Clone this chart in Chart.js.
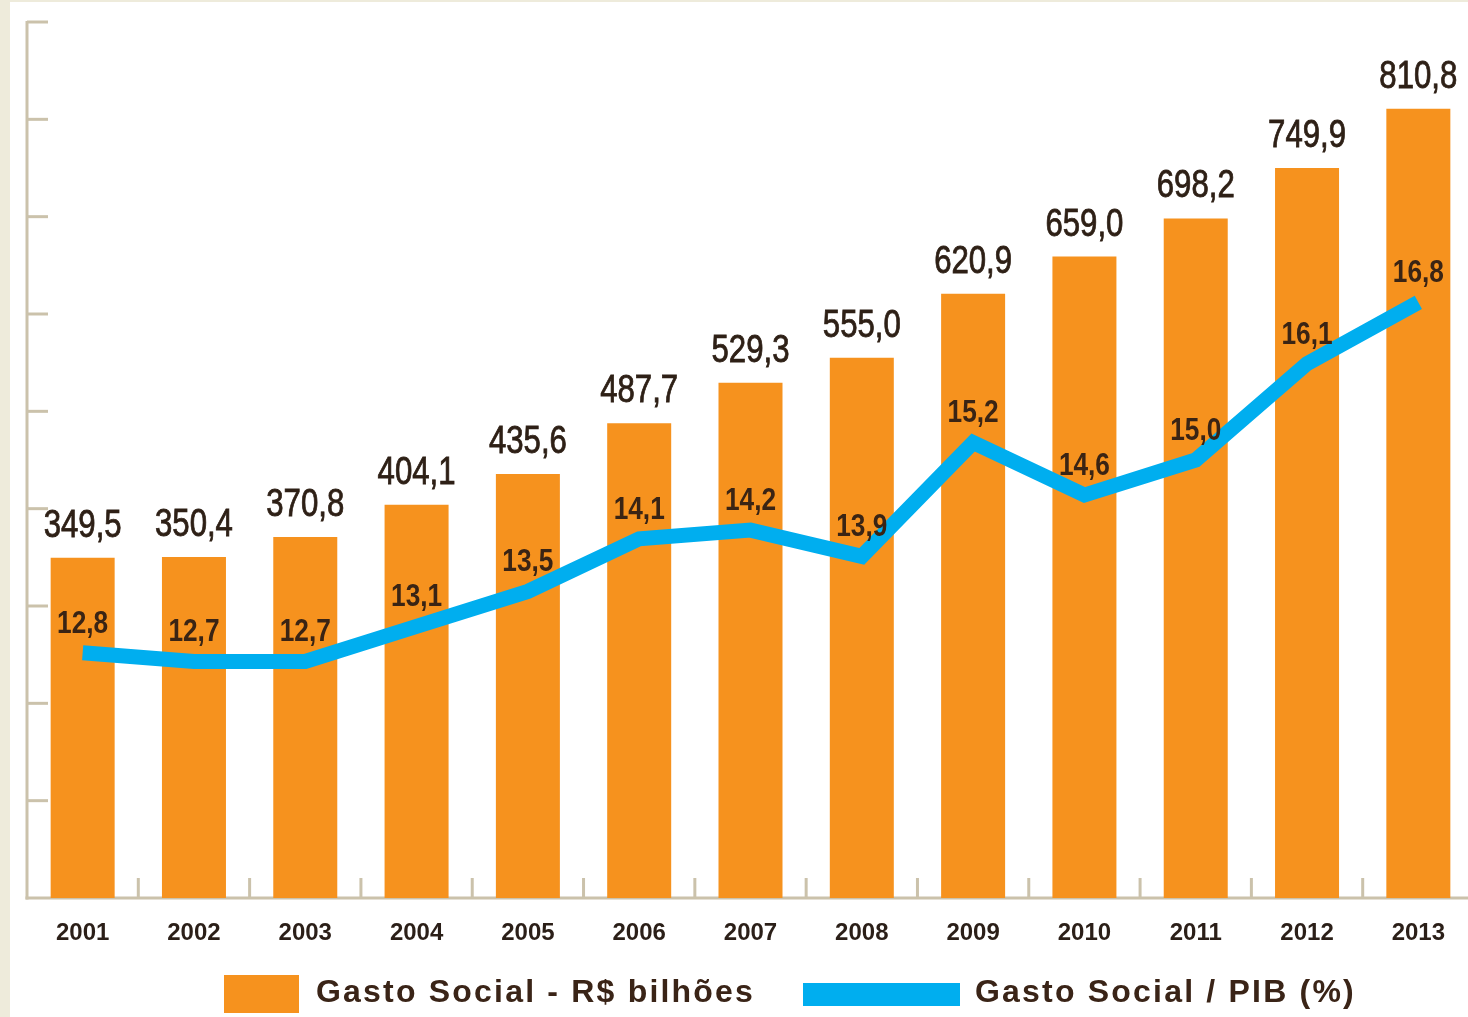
<!DOCTYPE html>
<html>
<head>
<meta charset="utf-8">
<script src="https://cdn.jsdelivr.net/npm/chart.js@4.4.1/dist/chart.umd.min.js"></script>
<style>
  html, body { margin: 0; padding: 0; width: 1468px; height: 1017px; overflow: hidden; background: #ffffff; }
  #strip { position: absolute; left: 0; top: 0; width: 10px; height: 1017px; background: #eeebdb; }
  #topstrip { position: absolute; left: 0; top: 0; width: 1468px; height: 2px; background: #eeebdb; }
  #wrap { position: absolute; left: 0; top: 0; width: 1474px; height: 1017px; }
  .leg { position: absolute; font-family: "Liberation Sans", Arial, sans-serif; font-weight: bold; font-size: 32px; letter-spacing: 2.2px; color: #3a2417; white-space: nowrap; line-height: 1; }
  .box { position: absolute; }
</style>
</head>
<body>
<div id="strip"></div>
<div id="topstrip"></div>
<div id="wrap"><canvas id="c" width="1474" height="1017"></canvas></div>
<div class="box" style="left:224px;top:975px;width:75px;height:38px;background:#f6921e;"></div>
<div class="leg" id="leg1" style="left:316px;top:975px;">Gasto Social - R$ bilhões</div>
<div class="box" style="left:803px;top:983px;width:157px;height:23px;background:#00aeef;"></div>
<div class="leg" id="leg2" style="left:975px;top:975px;">Gasto Social / PIB (%)</div>
<script>
const years = ['2001','2002','2003','2004','2005','2006','2007','2008','2009','2010','2011','2012','2013'];
const gastoSocial = [349.5, 350.4, 370.8, 404.1, 435.6, 487.7, 529.3, 555.0, 620.9, 659.0, 698.2, 749.9, 810.8];
const gastoPib = [12.8, 12.7, 12.7, 13.1, 13.5, 14.1, 14.2, 13.9, 15.2, 14.6, 15.0, 16.1, 16.8];
const yTicks = [0, 100, 200, 300, 400, 500, 600, 700, 800, 900];

const AXIS_COLOR = '#cbc2ab';
const TEXT_COLOR = '#2e2016';
const fmt = v => v.toFixed(1).replace('.', ',');
const sans = '"Liberation Sans", Arial, sans-serif';
const NARROW = 0.82;

function narrowText(ctx, text, x, y, stroke) {
  ctx.save();
  ctx.translate(x, y);
  ctx.scale(NARROW, 1);
  ctx.fillText(text, 0, 0);
  if (stroke) {
    ctx.lineWidth = stroke;
    ctx.strokeText(text, 0, 0);
  }
  ctx.restore();
}

const axesPlugin = {
  id: 'customAxes',
  beforeDatasetsDraw(chart) {
    const ctx = chart.ctx;
    const a = chart.chartArea;
    const y = chart.scales.y;
    const x = chart.scales.x;
    ctx.save();
    ctx.strokeStyle = AXIS_COLOR;
    ctx.lineWidth = 3;
    ctx.lineCap = 'butt';
    ctx.beginPath();
    ctx.moveTo(a.left, y.getPixelForValue(900) - 1);
    ctx.lineTo(a.left, a.bottom + 1.5);
    ctx.stroke();
    ctx.beginPath();
    ctx.moveTo(a.left - 1.5, a.bottom);
    ctx.lineTo(chart.width, a.bottom);
    ctx.stroke();
    yTicks.forEach(v => {
      if (v === 0) return;
      const py = y.getPixelForValue(v);
      ctx.beginPath();
      ctx.moveTo(a.left, py);
      ctx.lineTo(a.left + 21, py);
      ctx.stroke();
    });
    for (let i = 0; i < years.length - 1; i++) {
      const px = (x.getPixelForValue(i) + x.getPixelForValue(i + 1)) / 2;
      ctx.beginPath();
      ctx.moveTo(px, a.bottom);
      ctx.lineTo(px, a.bottom - 20);
      ctx.stroke();
    }
    ctx.restore();
  }
};

const labelsPlugin = {
  id: 'valueLabels',
  afterDatasetsDraw(chart) {
    const ctx = chart.ctx;
    ctx.save();
    ctx.textAlign = 'center';
    ctx.textBaseline = 'alphabetic';
    const bars = chart.getDatasetMeta(0).data;
    ctx.fillStyle = TEXT_COLOR;
    ctx.strokeStyle = TEXT_COLOR;
    ctx.font = '38px ' + sans;
    bars.forEach((b, i) => {
      narrowText(ctx, fmt(gastoSocial[i]), b.x, b.y - 21, 0.8);
    });
    const pts = chart.getDatasetMeta(1).data;
    ctx.fillStyle = '#3a2414';
    ctx.font = 'bold 32px ' + sans;
    pts.forEach((p, i) => {
      narrowText(ctx, fmt(gastoPib[i]), bars[i].x, p.y - 20, 0);
    });
    ctx.restore();
  }
};

new Chart(document.getElementById('c'), {
  data: {
    labels: years,
    datasets: [
      {
        type: 'bar',
        label: 'Gasto Social - R$ bilhões',
        data: gastoSocial,
        backgroundColor: '#f6921e',
        borderWidth: 0,
        yAxisID: 'y',
        barPercentage: 0.575,
        categoryPercentage: 1.0,
        order: 2
      },
      {
        type: 'line',
        label: 'Gasto Social / PIB (%)',
        data: gastoPib,
        borderColor: '#00aeef',
        backgroundColor: '#00aeef',
        borderWidth: 15,
        borderCapStyle: 'butt',
        borderJoinStyle: 'miter',
        tension: 0,
        pointRadius: 0,
        fill: false,
        yAxisID: 'y1',
        order: 1
      }
    ]
  },
  options: {
    responsive: false,
    animation: false,
    devicePixelRatio: 1,
    layout: { padding: { top: 22, left: 27, right: 0, bottom: 0 } },
    plugins: {
      legend: { display: false },
      tooltip: { enabled: false }
    },
    scales: {
      x: {
        type: 'category',
        offset: true,
        grid: { display: false, drawTicks: false },
        border: { display: false },
        ticks: {
          color: '#2b1f18',
          font: { family: sans, weight: 'bold', size: 24 },
          padding: 21,
          maxRotation: 0,
          autoSkip: false
        },
        afterFit(scale) { scale.height = 119; }
      },
      y: { display: false, min: 0, max: 900 },
      y1: { display: false, min: 10, max: 20 }
    }
  },
  plugins: [axesPlugin, labelsPlugin]
});
</script>
</body>
</html>
